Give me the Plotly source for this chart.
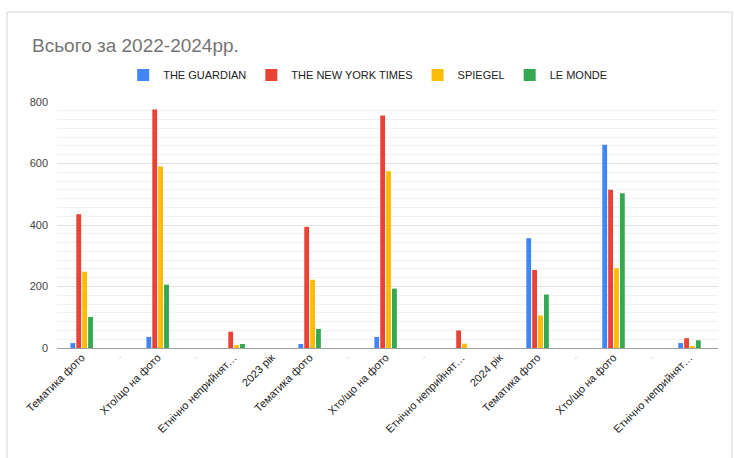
import plotly.graph_objects as go

categories = ["Тематика фото", "-", "Хто/що на фото", "-", "Етнічно неприйнят…",
              "2023 рік", "Тематика фото", "-", "Хто/що на фото", "-", "Етнічно неприйнят…",
              "2024 рік", "Тематика фото", "-", "Хто/що на фото", "-", "Етнічно неприйнят…"]
guardian = [16, 0, 36, 0, 0, 0, 13, 0, 36, 0, 0, 0, 357, 0, 661, 0, 16]
nyt = [435, 0, 776, 0, 53, 0, 394, 0, 756, 0, 57, 0, 254, 0, 515, 0, 32]
spiegel = [248, 0, 590, 0, 9, 0, 222, 0, 575, 0, 14, 0, 106, 0, 259, 0, 5]
lemonde = [101, 0, 206, 0, 13, 0, 62, 0, 193, 0, 0, 0, 174, 0, 503, 0, 25]
series_names = ["THE GUARDIAN", "THE NEW YORK TIMES", "SPIEGEL", "LE MONDE"]
colors = ["#4285F4", "#EA4335", "#FBBC04", "#34A853"]
y_ticks = [0, 200, 400, 600, 800]

x = list(range(len(categories)))
ticktext = [("<span style='color:#d8d8d8'>-</span>" if c == "-" else c) for c in categories]

fig = go.Figure()
for name, vals, col in zip(series_names, [guardian, nyt, spiegel, lemonde], colors):
    fig.add_trace(go.Bar(x=x, y=vals, name=name, marker=dict(color=col, line=dict(width=0))))

W, H = 734, 458
L, R, T, B = 57, 16, 102, 110
pw, ph = W - L - R, H - T - B

def px_x(p):
    return (p - L) / pw

def px_y(p):
    return (H - B - p) / ph

fig.update_layout(
    width=W, height=H,
    margin=dict(l=L, r=R, t=T, b=B),
    paper_bgcolor="white", plot_bgcolor="white",
    font=dict(family="Liberation Sans, Arial, sans-serif", size=11, color="#222222"),
    barmode="group", bargap=0.38, bargroupgap=0.18,
    title=dict(text="Всього за 2022-2024рр.", x=32 / W, xref="container", xanchor="left",
               y=1 - 45 / H, yref="container", yanchor="middle",
               font=dict(size=19, color="#757575", family="Liberation Sans, Arial, sans-serif")),
    showlegend=True,
    legend=dict(orientation="h", x=0.47, xanchor="center", xref="paper",
                y=px_y(75), yanchor="middle", font=dict(size=11, color="#222222"),
                itemwidth=30, tracegroupgap=0),
    xaxis=dict(tickmode="array", tickvals=x, ticktext=ticktext, tickangle=-45,
               range=[-0.65, 16.75], showgrid=False, zeroline=False,
               showline=False, ticks="", tickfont=dict(size=11, color="#222222")),
    yaxis=dict(range=[0, 800], tickvals=y_ticks, showgrid=True, gridcolor="#e2e2e2",
               gridwidth=1, zeroline=True, zerolinecolor="#9e9e9e", zerolinewidth=1,
               showline=False, ticks="", ticklabelstandoff=8,
               tickfont=dict(size=11, color="#444444"),
               minor=dict(dtick=200 / 7, tick0=0, showgrid=True, gridcolor="#f1f1f1", gridwidth=1)),
    shapes=[dict(type="rect", xref="paper", yref="paper",
                 x0=px_x(7), x1=px_x(732), y0=px_y(470), y1=px_y(12),
                 line=dict(color="#d6d6d6", width=1), fillcolor="rgba(0,0,0,0)", layer="below")],
)

fig.write_html("out.html")
